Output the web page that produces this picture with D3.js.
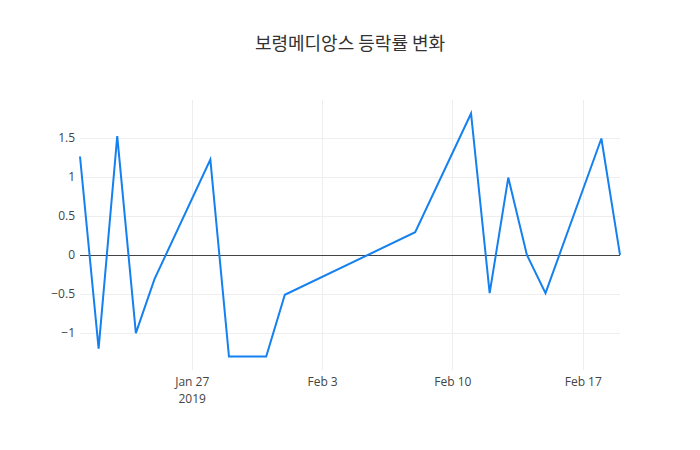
<!DOCTYPE html>
<html><head><meta charset="utf-8">
<script src="https://cdn.jsdelivr.net/npm/d3@7"></script>
<style>body{margin:0;background:#fff}svg{display:block}</style>
</head><body>
<svg id="chart" width="700" height="450"></svg>
<script>
const title = "보령메디앙스 등락률 변화";
const dates = ["2019-01-21","2019-01-22","2019-01-23","2019-01-24","2019-01-25","2019-01-28","2019-01-29","2019-01-30","2019-01-31","2019-02-01","2019-02-08","2019-02-11","2019-02-12","2019-02-13","2019-02-14","2019-02-15","2019-02-18","2019-02-19"];
const values = [1.26,-1.2,1.52,-1.0,-0.31,1.22,-1.3,-1.3,-1.3,-0.51,0.29,1.81,-0.49,0.99,0.0,-0.49,1.49,0.0];
const yTicks = [-1,-0.5,0,0.5,1,1.5];
const xTickDates = ["2019-01-27","2019-02-03","2019-02-10","2019-02-17"];

const W=700,H=450,m={l:80,r:80,t:100,b:80};
const pw=W-m.l-m.r, ph=H-m.t-m.b;
const parse=d3.utcParse("%Y-%m-%d");
const data=dates.map((d,i)=>({x:parse(d),y:values[i]}));
const svg=d3.select("#chart");
const font="'Open Sans', sans-serif";

const x=d3.scaleUtc().domain(d3.extent(data,d=>d.x)).range([m.l,m.l+pw]);
const yMin=d3.min(values), yMax=d3.max(values);
const pad=(yMax-yMin)*(ph/(ph-27)-1)/2;
const y=d3.scaleLinear().domain([yMin-pad,yMax+pad]).range([m.t+ph,m.t]);
const snap=v=>Math.round(v)+0.5;

// grid
const g=svg.append("g");
g.selectAll(".vx").data(xTickDates.map(parse)).enter().append("line")
 .attr("x1",d=>snap(x(d))).attr("x2",d=>snap(x(d))).attr("y1",m.t).attr("y2",m.t+ph)
 .attr("stroke","#eee").attr("stroke-width",1);
g.selectAll(".hy").data(yTicks.filter(v=>v!==0)).enter().append("line")
 .attr("x1",m.l).attr("x2",m.l+pw).attr("y1",d=>snap(y(d))).attr("y2",d=>snap(y(d)))
 .attr("stroke","#eee").attr("stroke-width",1);
g.append("line").attr("x1",m.l).attr("x2",m.l+pw).attr("y1",snap(y(0))).attr("y2",snap(y(0)))
 .attr("stroke","#444").attr("stroke-width",1);

// y axis
const yAxis=d3.axisLeft(y).tickValues(yTicks).tickSize(0).tickPadding(4)
 .tickFormat(v=>v<0?"\u2212"+Math.abs(v):String(v));
const ya=svg.append("g").attr("transform",`translate(${m.l-1},0)`).call(yAxis);
ya.select(".domain").remove();
ya.selectAll("text").attr("font-family",font).attr("font-size",12).attr("fill","#444");

// x axis
const fmt=d3.utcFormat("%b %-d");
const xAxis=d3.axisBottom(x).tickValues(xTickDates.map(parse)).tickSize(0).tickPadding(7).tickFormat(fmt);
const xa=svg.append("g").attr("transform",`translate(0,${m.t+ph})`).call(xAxis);
xa.select(".domain").remove();
xa.selectAll("text").attr("font-family",font).attr("font-size",12).attr("fill","#444");
xa.selectAll(".tick").filter((d,i)=>i===0).append("text")
 .attr("y",24).attr("dy","0.71em").attr("text-anchor","middle")
 .attr("font-family",font).attr("font-size",12).attr("fill","#444").text("2019");

// line
const line=d3.line().x(d=>x(d.x)).y(d=>y(d.y));
svg.append("path").datum(data).attr("d",line).attr("fill","none")
 .attr("stroke","#1580ef").attr("stroke-width",2).attr("stroke-linejoin","miter");

// title
svg.append("text").attr("x",W/2).attr("y",50).attr("text-anchor","middle")
 .attr("font-family","'Noto Sans CJK KR', 'Open Sans', sans-serif").attr("font-size",18).attr("fill","#333").text(title);
</script>
</body></html>
